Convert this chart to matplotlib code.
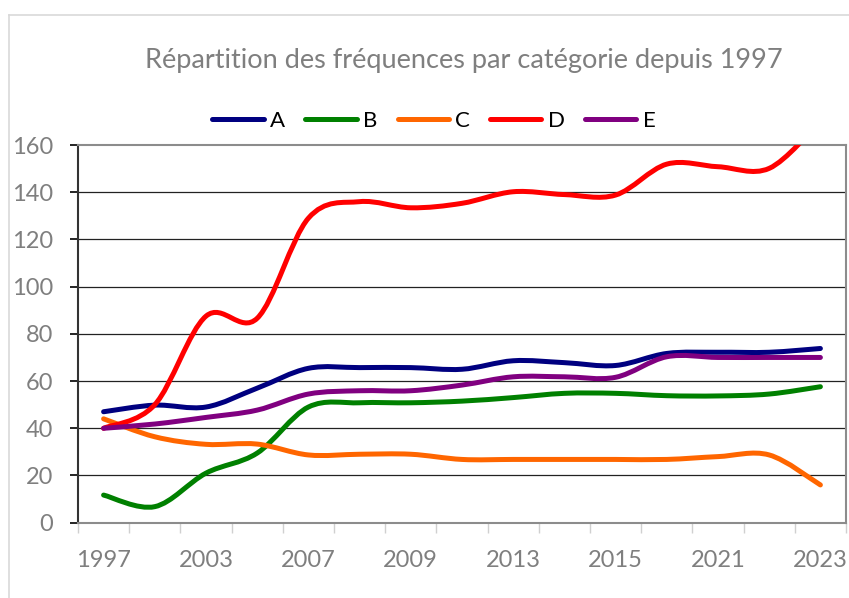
import matplotlib
matplotlib.use("Agg")
import matplotlib.pyplot as plt
from matplotlib.path import Path
from matplotlib.patches import PathPatch
from matplotlib.lines import Line2D
import numpy as np

plt.rcParams['font.family'] = ['Lato', 'DejaVu Sans']

title = "Répartition des fréquences par catégorie depuis 1997"
# 15 categories, only every second one is labelled on the chart
categories = ['1997', '', '2003', '', '2007', '', '2009', '', '2013', '', '2015', '', '2021', '', '2023']

series_names = ['A', 'B', 'C', 'D', 'E']
A = [47, 49.8, 49, 57, 65.4, 65.7, 65.7, 65, 68.6, 67.8, 66.6, 71.7, 72.2, 72.2, 73.8]
B = [11.7, 6.8, 21, 29.5, 49, 50.8, 50.8, 51.5, 53, 54.8, 54.8, 53.8, 53.7, 54.5, 57.6]
C = [44, 36.4, 33.2, 33.3, 28.7, 29, 29, 26.8, 26.8, 26.8, 26.8, 26.8, 28, 28.7, 16]
D = [40, 50, 87.5, 86.6, 129, 136, 133.4, 135.3, 140.2, 139, 138.8, 151.9, 150.8, 150.1, 170]
E = [40, 41.8, 44.6, 47.7, 54.5, 55.9, 55.9, 58.3, 61.8, 61.8, 61.6, 70.3, 70, 70, 70]
colors = ['#000080', '#008000', '#ff6600', '#ff0000', '#800080']

W, H = 849, 598
fig = plt.figure(figsize=(W / 100, H / 100), dpi=100)
fig.patch.set_facecolor('white')

# chart-area border (light gray, top and left visible)
fig.add_artist(Line2D([9 / W, 9 / W], [0, 1 - 15 / H], color='#d9d9d9', lw=1.2))
fig.add_artist(Line2D([9 / W, 1], [1 - 15 / H, 1 - 15 / H], color='#d9d9d9', lw=1.2))

ax = fig.add_axes([78 / W, 1 - 522.7 / H, 768 / W, 377.7 / H])

x = np.arange(len(categories))


def smooth_path(xs, ys):
    pts = np.column_stack([xs, ys]).astype(float)
    n = len(pts)
    verts = [pts[0]]
    codes = [Path.MOVETO]
    for i in range(n - 1):
        p0 = pts[i - 1] if i > 0 else pts[i]
        p1 = pts[i]
        p2 = pts[i + 1]
        p3 = pts[i + 2] if i + 2 < n else pts[i + 1]
        c1 = p1 + (p2 - p0) / 6.0
        c2 = p2 - (p3 - p1) / 6.0
        verts += [c1, c2, p2]
        codes += [Path.CURVE4] * 3
    return Path(verts, codes)


for name, vals, col in zip(series_names, [A, B, C, D, E], colors):
    patch = PathPatch(smooth_path(x, vals), facecolor='none', edgecolor=col,
                      lw=3.6, capstyle='round', joinstyle='round', zorder=3)
    ax.add_patch(patch)

ax.set_xlim(-0.5, len(categories) - 0.5)
ax.set_ylim(0, 160)

# y axis
ax.set_yticks(np.arange(0, 161, 20))
ax.tick_params(axis='y', direction='out', length=6, width=1.2, color='black',
               labelsize=17, labelcolor='#7f7f7f', pad=12)
for yv in range(20, 160, 20):
    ax.axhline(yv, color='#222222', lw=0.9, zorder=1)

# x axis: ticks between categories, labels on every second category
ax.set_xticks(np.arange(-0.5, len(categories), 1.0))
ax.set_xticklabels([])
ax.tick_params(axis='x', which='major', direction='out', length=7, width=1.0, color='#d0d0d0')
lab_pos = [i for i, c in enumerate(categories) if c]
ax.set_xticks(lab_pos, minor=True)
ax.set_xticklabels([categories[i] for i in lab_pos], minor=True)
ax.tick_params(axis='x', which='minor', length=0, labelsize=17, labelcolor='#7f7f7f', pad=20)

for s in ['top', 'right', 'bottom']:
    ax.spines[s].set_color('#8c8c8c')
    ax.spines[s].set_linewidth(1.5)
ax.spines['left'].set_color('#333333')
ax.spines['left'].set_linewidth(1.5)

# title
fig.text(464 / W, 1 - 68 / H, title, ha='center', va='baseline', fontsize=19.5, color='#7f7f7f')

# legend
handles = [Line2D([], [], color=c, lw=3.6, solid_capstyle='round') for c in colors]
fig.legend(handles, series_names, loc='center', bbox_to_anchor=(434 / W, 1 - 121 / H),
           ncol=5, frameon=False, fontsize=16, handlelength=2.3, handletextpad=0.3,
           columnspacing=0.9)

fig.savefig('out.png', dpi=100, facecolor='white')
